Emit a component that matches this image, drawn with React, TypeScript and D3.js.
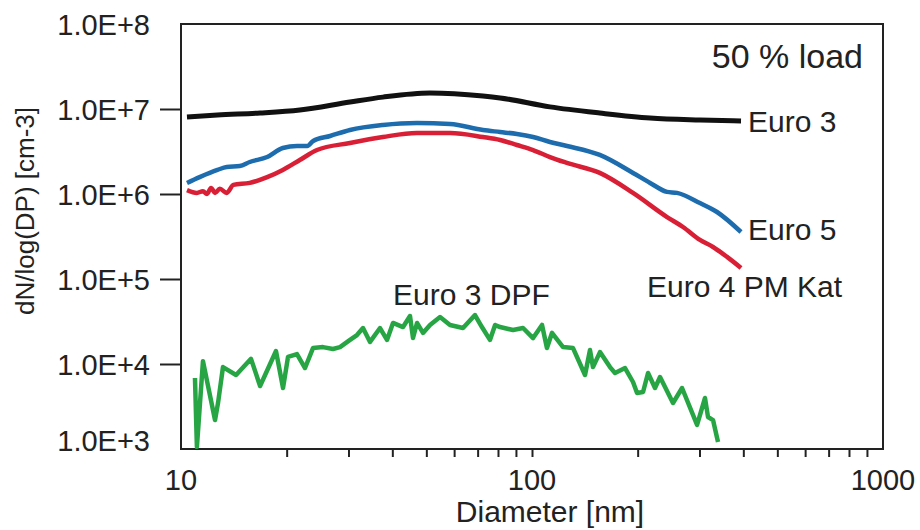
import React, { useEffect, useRef } from "react";
import * as d3 from "d3";

// particle size distributions at 50 % load
const yTickValues = [1e3, 1e4, 1e5, 1e6, 1e7, 1e8];
const xTickLabels = [10, 100, 1000];

const euro3Dia = [10.4, 12.7, 16.8, 21.8, 30.3, 37.6, 51.2, 72.5, 81.1, 112.5, 156, 217, 301, 394];
const euro3Val = [8.05e6, 8.5e6, 8.97e6, 9.73e6, 1.21e7, 1.38e7, 1.54e7, 1.42e7, 1.35e7, 1.06e7, 8.97e6, 7.83e6, 7.42e6, 7.22e6];

const euro5Dia = [
  10.4, 11.3, 12.7, 13.5, 14.7, 15.7, 17.6, 19.5, 21.4, 22.9, 23.8, 26.6, 30.3, 37.6, 47.0,
  58.4, 72.5, 81.1, 90.6, 100.7, 112.5, 125.8, 156, 194, 217, 242.5, 258.9, 301, 336.6, 394,
];
const euro5Val = [
  1.35e6, 1.58e6, 1.92e6, 2.08e6, 2.13e6, 2.38e6, 2.72e6, 3.48e6, 3.67e6, 3.67e6, 4.21e6, 4.81e6,
  5.66e6, 6.48e6, 6.84e6, 6.66e6, 5.66e6, 5.36e6, 5.08e6, 4.68e6, 4.09e6, 3.67e6, 2.88e6, 1.77e6,
  1.35e6, 1.06e6, 1.03e6, 7.83e5, 6.14e5, 3.57e5,
];

const euro4Dia = [
  10.4, 11.1, 11.55, 11.86, 12.18, 12.5, 12.9, 13.5, 14.1, 15.7, 17.6, 19.5, 21.8, 24.4, 30.3, 37.6,
  47.0, 58.4, 72.5, 81.1, 90.6, 100.7, 112.5, 125.8, 156, 194, 242.5, 269.3, 301, 327.9, 359.4, 394,
];
const euro4Val = [
  1.11e6, 1.03e6, 1.08e6, 1.0e6, 1.18e6, 1.03e6, 1.15e6, 1.03e6, 1.28e6, 1.35e6, 1.58e6, 1.92e6,
  2.51e6, 3.29e6, 3.98e6, 4.68e6, 5.22e6, 5.22e6, 4.68e6, 4.32e6, 3.77e6, 3.29e6, 2.72e6, 2.32e6,
  1.77e6, 1.03e6, 5.36e5, 4.09e5, 2.88e5, 2.38e5, 1.82e5, 1.35e5,
];

const dpfDia = [
  10.96, 11.1, 11.55, 12.5, 12.75, 13.17, 14.35, 15.83, 16.8, 18.65, 19.53, 20.18, 21.4, 22.56,
  23.77, 25.38, 27.1, 28.38, 30.31, 31.72, 33.0, 34.56, 36.9, 38.63, 40.18, 42.91, 44.92, 45.81,
  47.03, 48.92, 51.22, 54.7, 58.4, 63.6, 68.8, 72.0, 75.9, 78.5, 81.1, 88.3, 94.3, 100.7, 106.8,
  110.3, 114.0, 122.6, 130.9, 141.6, 146.3, 149.2, 156.2, 166.8, 172.4, 184.1, 194.0, 199.2, 207.2,
  214.1, 224.1, 231.6, 252.2, 267.6, 295.3, 311.1, 317.3, 327.9, 338.8,
];
const dpfVal = [
  6840, 1060, 10800, 2190, 3480, 9200, 7420, 11500, 5510, 14200, 5220, 12100, 13100, 8970,
  15400, 15800, 15000, 15800, 19200, 21900, 26500, 18200, 26500, 19200, 30400, 27200, 36700, 20200,
  30400, 23200, 28800, 35700, 28800, 26500, 37700, 27200, 19200, 28800, 27200, 25100, 26500, 20200, 28800,
  15400, 23200, 15800, 15400, 7420, 14600, 9200, 13800, 9200, 7830, 8970, 6140, 4560, 4680,
  7830, 5220, 7030, 3480, 5220, 1920, 3980, 2380, 2190, 1210,
];

const font = "'Liberation Sans', Arial, sans-serif";

export default function App() {
  const svgRef = useRef<SVGSVGElement>(null);

  useEffect(() => {
    const w = 920;
    const h = 530;
    const left = 181;
    const right = 883;
    const top = 24;
    const bottom = 449;

    const svg = d3
      .select(svgRef.current)
      .attr("width", w)
      .attr("height", h)
      .style("background", "#fff")
      .style("position", "absolute")
      .style("left", "0px")
      .style("top", "0px");
    svg.selectAll("*").remove();

    const x = d3.scaleLog().domain([10, 1000]).range([left, right]);
    const y = d3.scaleLog().domain([1e3, 1e8]).range([bottom, top]);

    // y axis
    const yAxis = d3
      .axisLeft(y)
      .tickValues(yTickValues)
      .tickSize(21)
      .tickSizeOuter(0)
      .tickPadding(10)
      .tickFormat((d) => `1.0E+${Math.round(Math.log10(+d))}`);
    const gy = svg.append("g").attr("transform", `translate(${left},0)`).call(yAxis);
    gy.select(".domain").remove();
    gy.selectAll("line")
      .attr("stroke", "#222")
      .attr("stroke-width", 2)
      .attr("opacity", (d: any) => (d === 1e3 || d === 1e8 ? 0 : 1));
    gy.selectAll("text")
      .attr("font-family", font)
      .attr("font-size", 29)
      .attr("fill", "#222")
      .attr("dy", (d: any) => (d === 1e3 ? "0.05em" : "0.35em"));

    // x axis, minor ticks only, labels at decades
    const minor = x.ticks().filter((d) => d !== 10 && d !== 1000);
    const xAxis = d3
      .axisBottom(x)
      .tickValues(minor)
      .tickSize(8)
      .tickSizeOuter(0)
      .tickFormat(() => "");
    const gx = svg.append("g").attr("transform", `translate(0,${bottom})`).call(xAxis);
    gx.select(".domain").remove();
    gx.selectAll("line").attr("stroke", "#222").attr("stroke-width", 2);

    svg
      .selectAll(".xlab")
      .data(xTickLabels)
      .join("text")
      .attr("x", (d) => x(d))
      .attr("y", 490)
      .attr("text-anchor", "middle")
      .attr("font-family", font)
      .attr("font-size", 29)
      .attr("fill", "#222")
      .text((d) => d);

    // frame
    svg
      .append("rect")
      .attr("x", left)
      .attr("y", top)
      .attr("width", right - left)
      .attr("height", bottom - top)
      .attr("fill", "none")
      .attr("stroke", "#222")
      .attr("stroke-width", 2);

    // axis titles
    svg
      .append("text")
      .attr("x", 550)
      .attr("y", 522)
      .attr("text-anchor", "middle")
      .attr("font-family", font)
      .attr("font-size", 30)
      .attr("fill", "#222")
      .text("Diameter [nm]");

    svg
      .append("text")
      .attr("transform", "translate(34,211) rotate(-90)")
      .attr("text-anchor", "middle")
      .attr("font-family", font)
      .attr("font-size", 26)
      .attr("fill", "#222")
      .text("dN/log(DP) [cm-3]");

    svg
      .append("text")
      .attr("x", 863)
      .attr("y", 68)
      .attr("text-anchor", "end")
      .attr("font-family", font)
      .attr("font-size", 34)
      .attr("fill", "#222")
      .text("50 % load");

    // curves
    const series = [
      { name: "Euro 3 DPF", dia: dpfDia, val: dpfVal, color: "#27a544", width: 4.5, lx: 393, ly: 305, curve: d3.curveLinear },
      { name: "Euro 4 PM Kat", dia: euro4Dia, val: euro4Val, color: "#d81f35", width: 4.5, lx: 647, ly: 297, curve: d3.curveMonotoneX },
      { name: "Euro 5", dia: euro5Dia, val: euro5Val, color: "#1d6cae", width: 4.5, lx: 748, ly: 240, curve: d3.curveMonotoneX },
      { name: "Euro 3", dia: euro3Dia, val: euro3Val, color: "#111", width: 5, lx: 748, ly: 132, curve: d3.curveMonotoneX },
    ];

    series.forEach((s) => {
      const pts = s.dia.map((d, i) => [d, s.val[i]] as [number, number]);
      const line = d3
        .line<[number, number]>()
        .x((p) => x(p[0]))
        .y((p) => y(p[1]))
        .curve(s.curve);
      svg
        .append("path")
        .attr("d", line(pts))
        .attr("fill", "none")
        .attr("stroke", s.color)
        .attr("stroke-width", s.width)
        .attr("stroke-linejoin", "round");

      svg
        .append("text")
        .attr("x", s.lx)
        .attr("y", s.ly)
        .attr("font-family", font)
        .attr("font-size", 30)
        .attr("fill", "#222")
        .text(s.name);
    });
  }, []);

  return (
    <div>
      <svg ref={svgRef}></svg>
    </div>
  );
}
